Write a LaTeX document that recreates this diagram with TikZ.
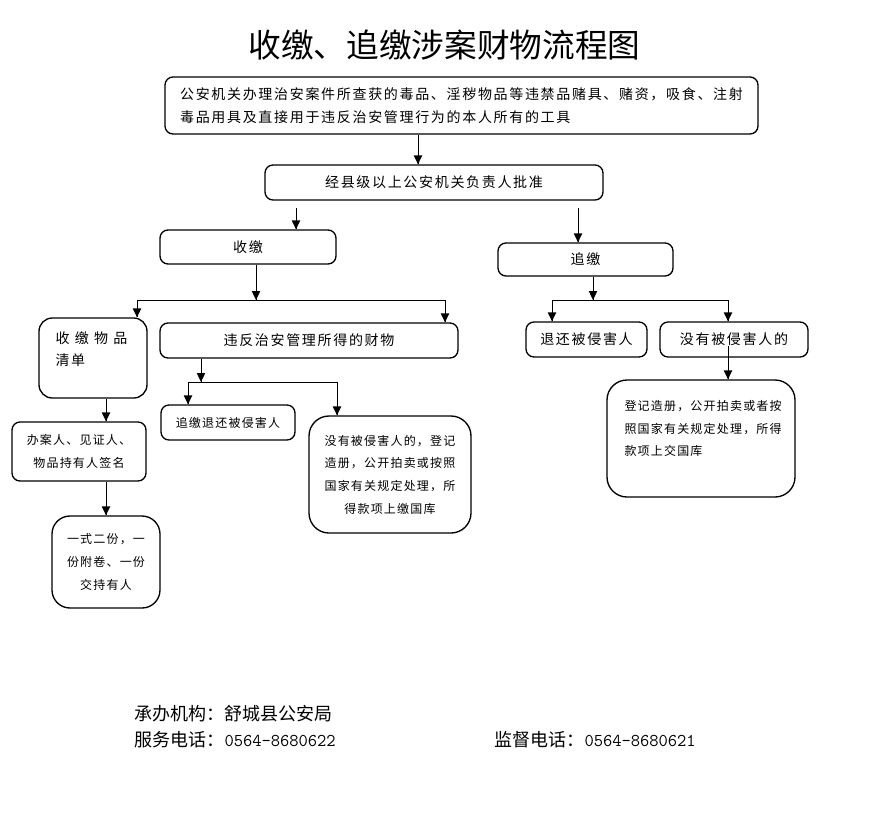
\documentclass[tikz,border=0pt]{standalone}
\usepackage{fontspec}
\usepackage{tikz}
\newfontfamily\cjk{Noto Sans CJK SC}
\newfontfamily\cjkbig{Noto Sans CJK SC}[LetterSpace=12]
\newfontfamily\cjksmall{Noto Sans CJK SC}[LetterSpace=10]
\tikzset{every picture/.style={line width=0.75pt}}
\tikzset{
  box/.style={draw, line width=1pt, rounded corners=6pt, inner sep=0pt, align=center, font=\cjkbig\fontsize{10.5}{17.25}\selectfont},
  smallbox/.style={box, font=\cjksmall\fontsize{9}{17}\selectfont},
  foot/.style={anchor=west, inner sep=0pt, font=\cjk\fontsize{13.5}{18}\selectfont},
  tip/.style={fill={rgb, 255:red, 0; green, 0; blue, 0 }, fill opacity=1, line width=0.75, draw opacity=0}
}

\begin{document}
\begin{tikzpicture}[x=0.75pt,y=0.75pt,yscale=-1,xscale=1]
\useasboundingbox (0,0) rectangle (884,833);

% Text Node
\draw (444.5,45) node (title) [font=\cjk\fontsize{24.5}{30}\selectfont] {收缴、追缴涉案财物流程图};

%Shape: Rounded Rect
\draw (461.5,105.5) node (top) [box, align=left, minimum width=444.75pt, minimum height=42.75pt] {公安机关办理治安案件所查获的毒品、淫秽物品等违禁品赌具、赌资，吸食、注射\\毒品用具及直接用于违反治安管理行为的本人所有的工具};
%Shape: Rounded Rect
\draw (434,182.5) node (ap) [box, minimum width=253.5pt, minimum height=26.25pt] {经县级以上公安机关负责人批准};
%Shape: Rounded Rect
\draw (248,247) node (sj) [box, minimum width=132pt, minimum height=25.5pt] {收缴};
%Shape: Rounded Rect
\draw (585.5,259.5) node (zj) [box, minimum width=131.25pt, minimum height=24.75pt] {追缴};
%Shape: Rounded Rect
\draw (93,358) node (qd) [box, rounded corners=10pt, minimum width=81pt, minimum height=60pt] {};
% Text Node
\draw (55,349) node (qdt) [anchor=west, inner sep=0pt, align=left, font=\cjkbig\fontsize{10.5}{16.5}\selectfont] {收\hspace{4pt}缴\hspace{4pt}物\hspace{4pt}品\\清单};
%Shape: Rounded Rect
\draw (309,340.5) node (wf) [box, minimum width=223.5pt, minimum height=26.25pt] {违反治安管理所得的财物};
%Shape: Rounded Rect
\draw (79,451.5) node (ba) [smallbox, minimum width=100.5pt, minimum height=44.25pt] {办案人、见证人、\\物品持有人签名};
%Shape: Rounded Rect
\draw (106,562) node (fs) [smallbox, rounded corners=13.5pt, minimum width=81pt, minimum height=69pt] {一式二份，一\\份附卷、一份\\交持有人};
%Shape: Rounded Rect
\draw (228,422.5) node (zt) [smallbox, minimum width=100.5pt, minimum height=26.25pt] {追缴退还被侵害人};
%Shape: Rounded Rect
\draw (390,474.5) node (mb) [smallbox, rounded corners=15pt, minimum width=121.5pt, minimum height=87.75pt] {没有被侵害人的，登记\\造册，公开拍卖或按照\\国家有关规定处理，所\\得款项上缴国库};
%Shape: Rounded Rect
\draw (586.5,339.5) node (th) [box, minimum width=90.75pt, minimum height=26.25pt] {退还被侵害人};
%Shape: Rounded Rect
\draw (734,339.5) node (my) [box, minimum width=111pt, minimum height=26.25pt] {没有被侵害人的};
%Shape: Rounded Rect
\draw (701,438.5) node (dj) [box, rounded corners=15pt, minimum width=141pt, minimum height=87.75pt] {};
% Text Node
\draw (624,428.5) node (djt) [anchor=west, inner sep=0pt, align=left, font=\cjksmall\fontsize{9}{16.9}\selectfont] {登记造册，公开拍卖或者按\\照国家有关规定处理，所得\\款项上交国库};

\coordinate (c1) at (418,0);
\coordinate (c2) at (296,208);
\coordinate (c3) at (578,208);
\coordinate (c4) at (256,300);
\coordinate (b1) at (137,300);
\coordinate (b2) at (445,300);
\coordinate (c5) at (201,382);
\coordinate (b3) at (188,382);
\coordinate (b4) at (337,382);
\coordinate (c6) at (593,300);
\coordinate (b5) at (552,300);
\coordinate (b6) at (728,300);
\coordinate (c7) at (728,346);
\coordinate (c8) at (106,0);

%Straight Lines
\draw (top.south -| c1) -- (ap.north -| c1);
\draw [shift={(ap.north -| c1)}, rotate=270] [tip] (8.93,-4.29) -- (0,0) -- (8.93,4.29) -- cycle;
%Straight Lines
\draw (c2) -- (sj.north -| c2);
\draw [shift={(sj.north -| c2)}, rotate=270] [tip] (8.93,-4.29) -- (0,0) -- (8.93,4.29) -- cycle;
%Straight Lines
\draw (c3) -- (zj.north -| c3);
\draw [shift={(zj.north -| c3)}, rotate=270] [tip] (8.93,-4.29) -- (0,0) -- (8.93,4.29) -- cycle;

%Straight Lines
\draw (sj.south -| c4) -- (c4);
\draw [shift={(c4)}, rotate=270] [tip] (8.93,-4.29) -- (0,0) -- (8.93,4.29) -- cycle;
%Straight Lines
\draw (qd.north -| b1) -- (b1) -- (b2) -- (wf.north -| b2);
\draw [shift={(qd.north -| b1)}, rotate=270] [tip] (8.93,-4.29) -- (0,0) -- (8.93,4.29) -- cycle;
\draw [shift={(wf.north -| b2)}, rotate=270] [tip] (8.93,-4.29) -- (0,0) -- (8.93,4.29) -- cycle;

%Straight Lines
\draw (wf.south -| c5) -- (c5);
\draw [shift={(c5)}, rotate=270] [tip] (8.93,-4.29) -- (0,0) -- (8.93,4.29) -- cycle;
%Straight Lines
\draw (zt.north -| b3) -- (b3) -- (b4) -- (mb.north -| b4);
\draw [shift={(zt.north -| b3)}, rotate=270] [tip] (8.93,-4.29) -- (0,0) -- (8.93,4.29) -- cycle;
\draw [shift={(mb.north -| b4)}, rotate=270] [tip] (8.93,-4.29) -- (0,0) -- (8.93,4.29) -- cycle;

%Straight Lines
\draw (zj.south -| c6) -- (c6);
\draw [shift={(c6)}, rotate=270] [tip] (8.93,-4.29) -- (0,0) -- (8.93,4.29) -- cycle;
%Straight Lines
\draw (th.north -| b5) -- (b5) -- (b6) -- (my.north -| b6);
\draw [shift={(th.north -| b5)}, rotate=270] [tip] (8.93,-4.29) -- (0,0) -- (8.93,4.29) -- cycle;
\draw [shift={(my.north -| b6)}, rotate=270] [tip] (8.93,-4.29) -- (0,0) -- (8.93,4.29) -- cycle;
%Straight Lines
\draw (c7) -- (dj.north -| c7);
\draw [shift={(dj.north -| c7)}, rotate=270] [tip] (8.93,-4.29) -- (0,0) -- (8.93,4.29) -- cycle;

%Straight Lines
\draw (qd.south -| c8) -- (ba.north -| c8);
\draw [shift={(ba.north -| c8)}, rotate=270] [tip] (8.93,-4.29) -- (0,0) -- (8.93,4.29) -- cycle;
%Straight Lines
\draw (ba.south -| c8) -- (fs.north -| c8);
\draw [shift={(fs.north -| c8)}, rotate=270] [tip] (8.93,-4.29) -- (0,0) -- (8.93,4.29) -- cycle;

% Text Node
\draw (134,714) node (org) [foot] {承办机构：舒城县公安局};
% Text Node
\draw (134,740) node (svc) [foot] {服务电话：{\ttfamily 0564-8680622}};
% Text Node
\draw (494,740) node (jd) [foot] {监督电话：{\ttfamily 0564-8680621}};
\end{tikzpicture}
\end{document}
